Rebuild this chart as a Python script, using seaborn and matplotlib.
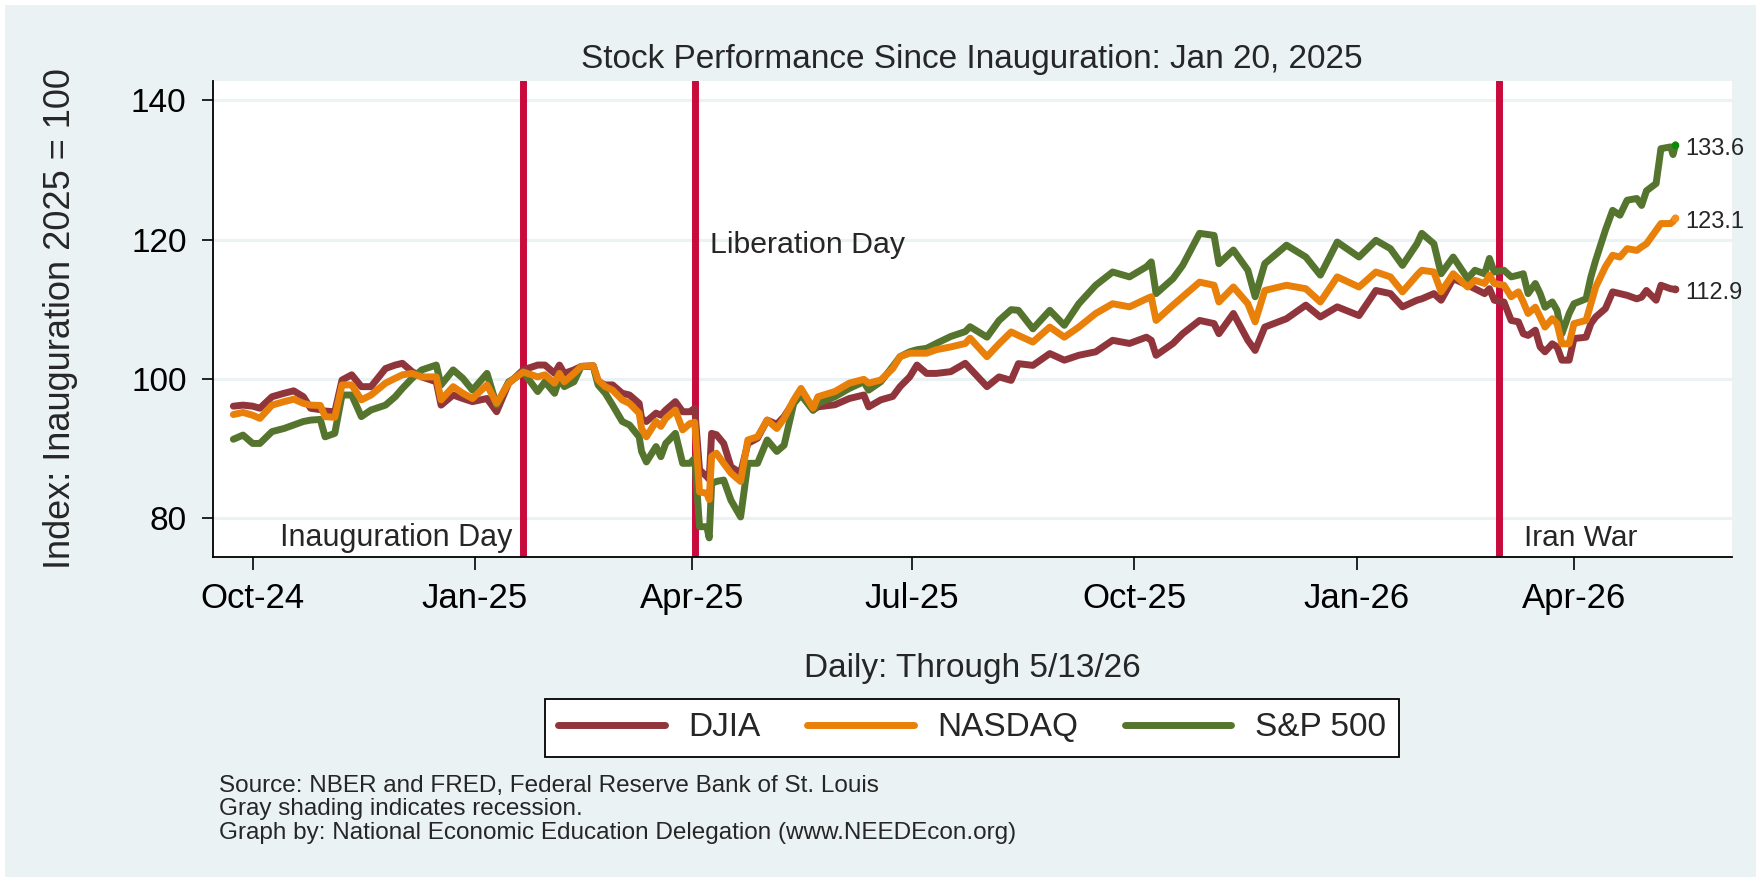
import matplotlib
matplotlib.use("Agg")
import matplotlib.pyplot as plt
import matplotlib.dates as mdates
from matplotlib.lines import Line2D
from matplotlib.patches import Rectangle
import numpy as np
import pandas as pd
import seaborn as sns

# Index values (Inauguration 2025 = 100)
dates = [
    "2024-09-23", "2024-09-27", "2024-10-01", "2024-10-04", "2024-10-09", "2024-10-14",
    "2024-10-18", "2024-10-22", "2024-10-25", "2024-10-29", "2024-10-31", "2024-11-04",
    "2024-11-07", "2024-11-11", "2024-11-15", "2024-11-19", "2024-11-25", "2024-11-29",
    "2024-12-02", "2024-12-06", "2024-12-10", "2024-12-16", "2024-12-18", "2024-12-23",
    "2024-12-27", "2024-12-31", "2025-01-06", "2025-01-10", "2025-01-15", "2025-01-17",
    "2025-01-21", "2025-01-27", "2025-01-30", "2025-02-03", "2025-02-05", "2025-02-07",
    "2025-02-11", "2025-02-14", "2025-02-19", "2025-02-21", "2025-02-24", "2025-02-27",
    "2025-03-03", "2025-03-06", "2025-03-10", "2025-03-11", "2025-03-13", "2025-03-17",
    "2025-03-19", "2025-03-21", "2025-03-25", "2025-03-28", "2025-03-31", "2025-04-02",
    "2025-04-04", "2025-04-07", "2025-04-08", "2025-04-09", "2025-04-11", "2025-04-14",
    "2025-04-17", "2025-04-21", "2025-04-24", "2025-04-28", "2025-05-02", "2025-05-06",
    "2025-05-09", "2025-05-13", "2025-05-16", "2025-05-21", "2025-05-23", "2025-05-30",
    "2025-06-05", "2025-06-11", "2025-06-13", "2025-06-18", "2025-06-23", "2025-06-26",
    "2025-06-30", "2025-07-03", "2025-07-07", "2025-07-11", "2025-07-17", "2025-07-23",
    "2025-07-25", "2025-08-01", "2025-08-06", "2025-08-11", "2025-08-14", "2025-08-20",
    "2025-08-27", "2025-09-02", "2025-09-08", "2025-09-15", "2025-09-22", "2025-09-29",
    "2025-10-06", "2025-10-08", "2025-10-10", "2025-10-17", "2025-10-21", "2025-10-28",
    "2025-11-03", "2025-11-05", "2025-11-11", "2025-11-17", "2025-11-20", "2025-11-24",
    "2025-12-03", "2025-12-11", "2025-12-17", "2025-12-24", "2026-01-02", "2026-01-09",
    "2026-01-15", "2026-01-20", "2026-01-26", "2026-01-28", "2026-02-02", "2026-02-05",
    "2026-02-10", "2026-02-16", "2026-02-19", "2026-02-23", "2026-02-25", "2026-02-27",
    "2026-03-03", "2026-03-06", "2026-03-09", "2026-03-11", "2026-03-13", "2026-03-16",
    "2026-03-18", "2026-03-20", "2026-03-23", "2026-03-25", "2026-03-27", "2026-03-30",
    "2026-04-01", "2026-04-06", "2026-04-08", "2026-04-10", "2026-04-14", "2026-04-17",
    "2026-04-20", "2026-04-23", "2026-04-27", "2026-04-29", "2026-05-01", "2026-05-05",
    "2026-05-07", "2026-05-11", "2026-05-12", "2026-05-13",
]

djia = [
    96.1, 96.25, 96.1, 95.8, 97.45, 97.95, 98.3, 97.45, 95.8, 95.6, 95.4, 95.3,
    99.85, 100.6, 98.9, 98.9, 101.5, 102.0, 102.25, 101.05, 100.3, 99.6, 96.25, 97.7,
    97.2, 96.75, 97.2, 95.3, 99.4, 100.0, 101.3, 102.0, 102.0, 100.8, 102.0, 100.8,
    101.3, 101.8, 101.9, 99.6, 99.15, 99.15, 97.95, 97.7, 96.5, 94.35, 93.9, 95.1,
    94.8, 95.55, 96.75, 95.3, 95.3, 95.8, 86.95, 86.0, 85.6, 92.2, 92.0, 90.75,
    87.4, 86.5, 90.75, 91.5, 94.1, 93.5, 94.6, 96.75, 97.95, 95.55, 96.0, 96.3,
    97.2, 97.7, 96.0, 97.0, 97.5, 98.9, 100.3, 102.0, 100.8, 100.8, 101.05, 102.25,
    101.5, 98.9, 100.3, 99.8, 102.2, 101.95, 103.65, 102.7, 103.4, 103.9, 105.55, 105.1,
    106.0, 105.55, 103.4, 105.1, 106.5, 108.4, 107.95, 106.5, 109.4, 105.55, 104.1, 107.45,
    108.65, 110.6, 108.9, 110.35, 109.1, 112.7, 112.25, 110.35, 111.3, 111.5, 112.25, 111.3,
    114.4, 113.45, 112.95, 112.25, 112.95, 111.3, 111.05, 108.4, 108.2, 106.5, 106.25, 107.0,
    104.6, 103.9, 105.05, 104.6, 102.7, 102.7, 105.8, 106.0, 107.95, 108.9, 110.1, 112.5,
    112.25, 112.0, 111.5, 111.75, 112.7, 111.3, 113.45, 112.95, 112.9, 112.9,
]

nasdaq = [
    94.9, 95.2, 94.8, 94.35, 96.25, 96.75, 97.1, 96.5, 96.25, 96.2, 94.6, 94.5,
    99.15, 99.15, 97.0, 97.7, 99.4, 100.1, 100.6, 100.8, 100.3, 100.3, 97.0, 98.9,
    97.95, 97.2, 99.15, 96.5, 99.4, 100.0, 101.0, 100.3, 100.6, 99.4, 100.8, 99.6,
    100.8, 101.8, 101.9, 99.85, 98.9, 98.4, 97.0, 96.5, 95.1, 92.9, 91.7, 93.9,
    93.2, 94.35, 95.55, 92.7, 93.6, 93.8, 83.8, 83.6, 82.7, 88.9, 89.35, 87.9,
    86.5, 85.3, 91.25, 91.7, 94.1, 92.9, 94.35, 97.0, 98.65, 95.8, 97.45, 98.2,
    99.4, 99.95, 99.4, 99.85, 101.5, 103.2, 103.7, 103.7, 103.7, 104.2, 104.6, 105.1,
    105.85, 103.2, 105.05, 106.75, 106.25, 105.3, 107.45, 106.0, 107.45, 109.4, 110.8, 110.35,
    111.5, 111.8, 108.4, 110.6, 111.8, 113.9, 113.45, 111.05, 113.2, 110.8, 108.2, 112.7,
    113.45, 112.95, 111.05, 114.65, 113.2, 115.35, 114.65, 112.5, 114.9, 115.6, 115.35, 112.5,
    115.1, 113.2, 114.15, 113.7, 114.9, 113.7, 113.45, 111.8, 112.5, 111.05, 109.4, 110.3,
    108.9, 107.45, 108.65, 107.95, 105.05, 105.05, 107.95, 108.4, 110.8, 113.2, 116.1, 117.75,
    117.5, 118.7, 118.45, 118.95, 119.4, 121.35, 122.3, 122.3, 122.6, 123.1,
]

sp500 = [
    91.35, 91.95, 90.75, 90.75, 92.45, 92.9, 93.4, 93.9, 94.1, 94.2, 91.7, 92.2,
    97.7, 97.7, 94.6, 95.55, 96.25, 97.45, 98.65, 100.1, 101.3, 102.0, 99.15, 101.3,
    100.1, 98.4, 100.8, 96.25, 99.6, 100.0, 101.0, 98.2, 99.6, 97.95, 100.1, 98.9,
    99.6, 101.8, 101.8, 99.15, 97.95, 96.25, 93.9, 93.4, 91.7, 89.6, 88.1, 90.3,
    88.85, 90.75, 92.2, 87.9, 87.9, 88.6, 78.8, 78.8, 77.2, 85.0, 85.3, 85.5,
    82.6, 80.2, 87.9, 87.9, 91.25, 89.6, 90.5, 96.5, 97.7, 95.5, 96.5, 97.45,
    98.65, 99.6, 98.4, 99.6, 101.8, 103.2, 103.9, 104.2, 104.4, 105.1, 106.1, 106.8,
    107.5, 106.0, 108.4, 109.95, 109.85, 107.2, 109.85, 107.7, 110.8, 113.45, 115.35, 114.65,
    116.1, 116.8, 112.25, 114.4, 116.3, 120.9, 120.6, 116.55, 118.5, 115.6, 111.8, 116.55,
    119.2, 117.5, 114.9, 119.65, 117.5, 119.9, 118.7, 116.3, 119.4, 120.9, 119.4, 115.1,
    117.5, 114.4, 115.6, 115.1, 117.3, 115.35, 115.6, 114.65, 114.9, 115.1, 112.25, 113.7,
    112.25, 110.3, 111.05, 109.85, 106.5, 109.4, 110.8, 111.5, 114.65, 117.05, 121.35, 124.2,
    123.5, 125.65, 125.9, 124.9, 127.0, 128.05, 133.05, 133.3, 132.2, 133.6,
]

event_dates = ["2025-01-21", "2025-04-02", "2026-03-01"]

series_names = ["DJIA", "NASDAQ", "S&P 500"]
colors = {"DJIA": "#90353B", "NASDAQ": "#E8800A", "S&P 500": "#55752F"}
dot_colors = {"DJIA": "#90353B", "NASDAQ": "#F5901E", "S&P 500": "#0A8A0A"}
BG = "#EAF2F3"
EVENT_RED = "#C80A3C"

df = pd.DataFrame({"date": pd.to_datetime(dates), "DJIA": djia,
                   "NASDAQ": nasdaq, "S&P 500": sp500})
long = df.melt(id_vars="date", var_name="index", value_name="value")

sns.set_theme(style="white")
plt.rcParams["font.family"] = ["Liberation Sans", "DejaVu Sans"]
plt.rcParams["lines.solid_joinstyle"] = "round"
plt.rcParams["lines.solid_capstyle"] = "round"

W, H = 1761, 882
fig = plt.figure(figsize=(W / 100, H / 100), dpi=100, facecolor="white")
fig.patches.append(Rectangle((5 / W, 5 / H), 1751 / W, 872 / H, transform=fig.transFigure,
                             facecolor=BG, edgecolor="none", zorder=-10))

ax = fig.add_axes([213 / W, 1 - 556.7 / H, 1518.7 / W, 476 / H])
ax.set_facecolor("white")

for d in event_dates:
    ax.axvline(pd.Timestamp(d), color=EVENT_RED, lw=5, zorder=1.5)

sns.lineplot(data=long, x="date", y="value", hue="index",
             hue_order=["DJIA", "S&P 500", "NASDAQ"], palette=colors,
             linewidth=5.0, legend=False, ax=ax, zorder=2)

# end points and their labels
last = df.iloc[-1]
for name in series_names:
    ax.scatter([last["date"]], [last[name]], s=30, color=dot_colors[name],
               zorder=5, linewidths=0)
    ax.annotate(f"{last[name]:.1f}", xy=(last["date"], last[name]), xytext=(7, -7),
                textcoords="offset points", fontsize=17, ha="left", va="baseline",
                annotation_clip=False)

ax.set_xlim(pd.Timestamp("2024-09-14 14:00"), pd.Timestamp("2026-06-05 07:00"))
ax.set_ylim(74.5, 142.8)
ax.set_yticks([80, 100, 120, 140])
ax.xaxis.set_major_locator(mdates.MonthLocator(bymonth=[1, 4, 7, 10]))
ax.xaxis.set_major_formatter(mdates.DateFormatter("%b-%y"))
ax.set_xlabel("")
ax.set_ylabel("")

ax.yaxis.grid(True, color=BG, lw=2.2)
ax.xaxis.grid(False)
ax.set_axisbelow(True)
for s in ["top", "right"]:
    ax.spines[s].set_visible(False)
for s in ["left", "bottom"]:
    ax.spines[s].set_color("black")
    ax.spines[s].set_linewidth(1.3)
ax.tick_params(axis="y", left=True, length=8, width=1.2, pad=11, labelsize=24, colors="black")
ax.tick_params(axis="x", bottom=True, length=9, width=1.2, pad=9, labelsize=25, colors="black")

# event labels
ax.text(pd.Timestamp("2025-01-16 08:00"), 76.1, "Inauguration Day", ha="right",
        va="baseline", fontsize=22)
ax.text(pd.Timestamp("2025-04-08 07:00"), 118.1, "Liberation Day", ha="left",
        va="baseline", fontsize=21.8)
ax.text(pd.Timestamp("2026-03-11 07:00"), 76.1, "Iran War", ha="left",
        va="baseline", fontsize=21.5)

# titles
fig.text(972 / W, 1 - 68 / H, "Stock Performance Since Inauguration: Jan 20, 2025",
         ha="center", va="baseline", fontsize=24)
fig.text(972 / W, 1 - 677 / H, "Daily: Through 5/13/26", ha="center", va="baseline",
         fontsize=24)
fig.text(61 / W, 1 - 318.7 / H, "Index: Inauguration 2025 = 100", rotation=90,
         ha="center", va="center", fontsize=26)

handles = [Line2D([0], [0], color=colors[n], lw=5) for n in series_names]
leg = fig.legend(handles, series_names, loc="center", bbox_to_anchor=(972 / W, 1 - 728 / H),
                 ncol=3, fontsize=24, frameon=True, fancybox=False, edgecolor="black",
                 framealpha=1, handlelength=3.2, handletextpad=0.7, columnspacing=1.4,
                 borderpad=0.4, borderaxespad=0)
leg.get_frame().set_linewidth(1.3)

notes = ["Source: NBER and FRED, Federal Reserve Bank of St. Louis",
         "Gray shading indicates recession.",
         "Graph by: National Economic Education Delegation (www.NEEDEcon.org)"]
for i, line in enumerate(notes):
    fig.text(219 / W, 1 - (792 + 23.5 * i) / H, line, ha="left", va="baseline", fontsize=17.5)

fig.savefig("out.png", dpi=100, facecolor=fig.get_facecolor())
